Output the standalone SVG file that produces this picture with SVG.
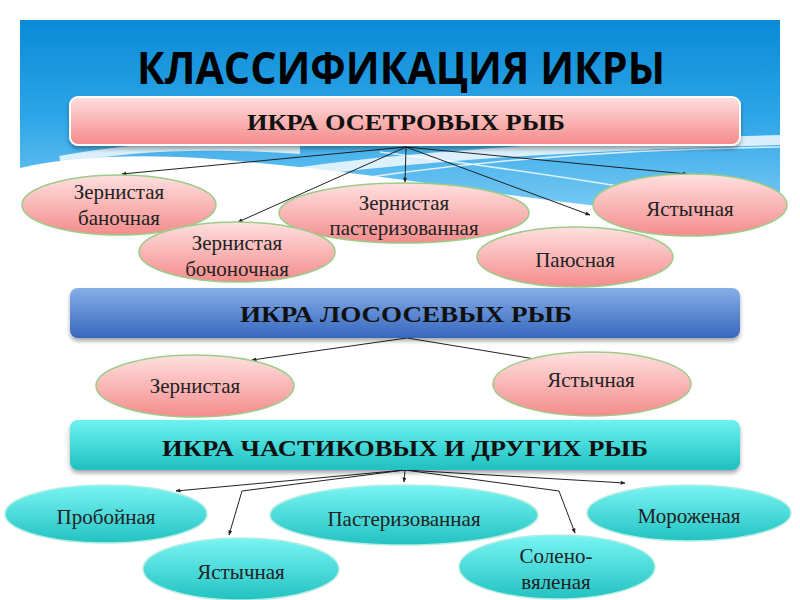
<svg xmlns="http://www.w3.org/2000/svg" width="800" height="600" viewBox="0 0 800 600">
<defs>
<linearGradient id="gBg" x1="0" y1="0" x2="0" y2="1">
<stop offset="0" stop-color="#0a8ad6"/>
<stop offset="0.5" stop-color="#2ea6e8"/>
<stop offset="1" stop-color="#7fcdf4"/>
</linearGradient>
<linearGradient id="gPink" x1="0" y1="0" x2="0" y2="1">
<stop offset="0" stop-color="#ffdede"/>
<stop offset="1" stop-color="#f58a8a"/>
</linearGradient>
<linearGradient id="gBlue" x1="0" y1="0" x2="0" y2="1">
<stop offset="0" stop-color="#86aee8"/>
<stop offset="1" stop-color="#3767bd"/>
</linearGradient>
<linearGradient id="gTeal" x1="0" y1="0" x2="0" y2="1">
<stop offset="0" stop-color="#6ef2f2"/>
<stop offset="1" stop-color="#1ec0c0"/>
</linearGradient>
<linearGradient id="gEPink" x1="0" y1="0" x2="0" y2="1">
<stop offset="0" stop-color="#ffe0e0"/>
<stop offset="1" stop-color="#f48c8c"/>
</linearGradient>
<linearGradient id="gETeal" x1="0" y1="0" x2="0" y2="1">
<stop offset="0" stop-color="#7af4f4"/>
<stop offset="1" stop-color="#22c2c2"/>
</linearGradient>
<filter id="sh" x="-5%" y="-20%" width="110%" height="150%">
<feGaussianBlur in="SourceAlpha" stdDeviation="2"/>
<feOffset dy="3" result="b"/>
<feComponentTransfer><feFuncA type="linear" slope="0.35"/></feComponentTransfer>
<feMerge><feMergeNode/><feMergeNode in="SourceGraphic"/></feMerge>
</filter>
<marker id="arr" viewBox="0 0 10 10" refX="9" refY="5" markerWidth="5" markerHeight="5" orient="auto" markerUnits="userSpaceOnUse">
<path d="M0,1 L10,5 L0,9 Z" fill="#222"/>
</marker>
<style>
.title{font-family:"Open Sans","Liberation Sans",sans-serif;font-weight:700;font-size:44px;fill:#000}
.hdr{font-family:"Liberation Serif","DejaVu Serif",serif;font-weight:700;font-size:24px;fill:#111}
.lbl{font-family:"Liberation Serif","DejaVu Serif",serif;font-size:21px;fill:#222}
.ep{fill:url(#gEPink);stroke:#9ccc88;stroke-width:1.5}
.et{fill:url(#gETeal);stroke:#b5eee0;stroke-width:1.5}
.cn{fill:none;stroke:#222;stroke-width:1;marker-end:url(#arr)}
.wl{fill:none;stroke:#ffffff;stroke-opacity:0.8}
</style>
</defs>

<rect x="0" y="0" width="800" height="600" fill="#ffffff"/>

<g id="background">
<path d="M20,20 H780 V195 Q745,222 690,216 Q560,203 440,185 Q300,165 200,158 Q90,152 20,168 Z" fill="url(#gBg)"/>
<path d="M250,180 Q420,150 780,140" class="wl" stroke-width="10" stroke-opacity="0.25"/>
<path d="M300,188 Q520,150 780,147" class="wl" stroke-width="1.5"/>
<path d="M380,152 Q560,175 700,200" class="wl" stroke-width="1.5"/>
<path d="M60,160 Q160,140 300,150" class="wl" stroke-width="8" stroke-opacity="0.9"/>
</g>

<g id="title">
<text class="title" x="401" y="84" text-anchor="middle" textLength="528" lengthAdjust="spacingAndGlyphs">КЛАССИФИКАЦИЯ ИКРЫ</text>
</g>

<g id="connectors">
<line class="cn" x1="406" y1="147" x2="122" y2="174"/>
<line class="cn" x1="406" y1="147" x2="238" y2="222"/>
<line class="cn" x1="406" y1="147" x2="405" y2="182"/>
<line class="cn" x1="406" y1="147" x2="590" y2="215"/>
<line class="cn" x1="406" y1="147" x2="687" y2="174"/>
<line class="cn" x1="407" y1="338" x2="252" y2="360"/>
<line class="cn" x1="407" y1="338" x2="541" y2="360"/>
<line class="cn" x1="405" y1="470" x2="176" y2="491"/>
<polyline class="cn" points="405,470 242,491 229,535"/>
<line class="cn" x1="405" y1="470" x2="404" y2="482"/>
<polyline class="cn" points="405,470 559,491 575,533"/>
<line class="cn" x1="405" y1="470" x2="625" y2="483"/>
</g>

<g id="box-osetr">
<rect x="70" y="97" width="670" height="48" rx="8" fill="url(#gPink)" stroke="#ffffff" stroke-width="2" filter="url(#sh)"/>
<text class="hdr" x="406" y="130" text-anchor="middle" textLength="318" lengthAdjust="spacingAndGlyphs">ИКРА ОСЕТРОВЫХ РЫБ</text>
</g>

<g id="e-banochnaya">
<ellipse class="ep" cx="119" cy="205" rx="97" ry="30"/>
<text class="lbl" x="119" y="199" text-anchor="middle">Зернистая</text>
<text class="lbl" x="119" y="225" text-anchor="middle">баночная</text>
</g>
<g id="e-pasterizovannaya">
<ellipse class="ep" cx="404" cy="213" rx="125" ry="30"/>
<text class="lbl" x="404" y="210" text-anchor="middle">Зернистая</text>
<text class="lbl" x="404" y="235" text-anchor="middle">пастеризованная</text>
</g>
<g id="e-bochonochnaya">
<ellipse class="ep" cx="237" cy="252" rx="98" ry="30"/>
<text class="lbl" x="237" y="250" text-anchor="middle">Зернистая</text>
<text class="lbl" x="237" y="276" text-anchor="middle">бочоночная</text>
</g>
<g id="e-yastychnaya1">
<ellipse class="ep" cx="690" cy="205" rx="97" ry="31"/>
<text class="lbl" x="690" y="216" text-anchor="middle">Ястычная</text>
</g>
<g id="e-payusnaya">
<ellipse class="ep" cx="575" cy="257" rx="98" ry="30"/>
<text class="lbl" x="575" y="267" text-anchor="middle">Паюсная</text>
</g>

<g id="box-losos">
<rect x="70" y="288" width="670" height="50" rx="8" fill="url(#gBlue)" filter="url(#sh)"/>
<text class="hdr" x="406" y="322" text-anchor="middle" textLength="332" lengthAdjust="spacingAndGlyphs">ИКРА ЛОСОСЕВЫХ РЫБ</text>
</g>

<g id="e-zernistaya">
<ellipse class="ep" cx="195" cy="386" rx="99" ry="31"/>
<text class="lbl" x="195" y="393" text-anchor="middle">Зернистая</text>
</g>
<g id="e-yastychnaya2">
<ellipse class="ep" cx="592" cy="384" rx="99" ry="32"/>
<text class="lbl" x="591" y="387" text-anchor="middle">Ястычная</text>
</g>

<g id="box-chastik">
<rect x="70" y="420" width="670" height="50" rx="8" fill="url(#gTeal)" filter="url(#sh)"/>
<text class="hdr" x="405" y="456" text-anchor="middle" textLength="486" lengthAdjust="spacingAndGlyphs">ИКРА ЧАСТИКОВЫХ И ДРУГИХ РЫБ</text>
</g>

<g id="e-proboynaya">
<ellipse class="et" cx="106" cy="514" rx="101" ry="29"/>
<text class="lbl" x="106" y="524" text-anchor="middle">Пробойная</text>
</g>
<g id="e-pasterizovannaya2">
<ellipse class="et" cx="404" cy="515" rx="134" ry="30"/>
<text class="lbl" x="404" y="526" text-anchor="middle">Пастеризованная</text>
</g>
<g id="e-morozhenaya">
<ellipse class="et" cx="689" cy="513" rx="102" ry="28"/>
<text class="lbl" x="689" y="523" text-anchor="middle">Мороженая</text>
</g>
<g id="e-yastychnaya3">
<ellipse class="et" cx="241" cy="569" rx="98" ry="31"/>
<text class="lbl" x="241" y="579" text-anchor="middle">Ястычная</text>
</g>
<g id="e-soleno">
<ellipse class="et" cx="557" cy="567" rx="98" ry="32"/>
<text class="lbl" x="556" y="563" text-anchor="middle">Солено-</text>
<text class="lbl" x="556" y="589" text-anchor="middle">вяленая</text>
</g>
</svg>
